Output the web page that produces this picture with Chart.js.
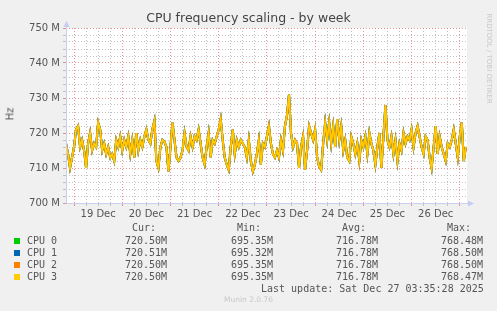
<!DOCTYPE html>
<html>
<head>
<meta charset="utf-8">
<script src="https://cdn.jsdelivr.net/npm/chart.js@4.4.1/dist/chart.umd.min.js"></script>
<style>
  body { margin: 0; background: #f0f0f0; width: 497px; height: 311px; overflow: hidden; position: relative; font-family: "DejaVu Sans", sans-serif; }
  #chart { position: absolute; left: 0; top: 0; }
  .t { position: absolute; white-space: pre; line-height: 1; }
  .mono { font-family: "DejaVu Sans Mono", monospace; font-size: 10px; color: #555; }
  .sw { position: absolute; width: 6px; height: 6px; }
</style>
</head>
<body>
<canvas id="chart" width="497" height="311"></canvas>

<div class="t" id="title" style="left:0;width:497px;text-align:center;top:12px;font-size:12.5px;color:#444;">CPU frequency scaling - by week</div>
<div class="t" style="left:4px;top:109px;font-size:10px;color:#555;transform:rotate(-90deg);transform-origin:center;">Hz</div>
<div class="t" style="left:440px;top:55px;width:97px;text-align:center;font-size:7px;color:#c8c8c8;transform:rotate(90deg);transform-origin:center;">RRDTOOL / TOBI OETIKER</div>
<div id="legend"></div>
<div class="t mono" style="left:261px;top:284px;">Last update: Sat Dec 27 03:35:28 2025</div>
<div class="t" style="left:0;width:497px;text-align:center;top:296px;font-size:7.5px;color:#c8c8c8;">Munin 2.0.76</div>

<script>
// CPU frequency in MHz, one sample per hour
const startHour = -4; // 18 Dec 20:00, relative to 19 Dec 00:00
const freqMHz = [
    717, 714, 710, 713, 716, 721, 722, 716, 718, 715,
    710, 717, 720, 715, 717, 716, 723, 721, 715, 717,
    714, 716, 713, 714, 712, 718, 716, 719, 715, 718,
    716, 719, 714, 718, 713, 720, 715, 718, 716, 719,
    721, 718, 717, 721, 723.5, 712, 710, 716, 718, 717.5,
    716, 709, 716, 723, 718, 713, 712, 713, 715, 720,
    716, 715, 719, 716, 719, 718, 721, 717, 713, 711,
    716, 720, 713, 718, 717, 719, 721, 724, 718, 713,
    711, 709.5, 716, 721, 714, 718, 716, 718, 717, 716,
    713, 718, 712, 709, 711, 714, 718, 711, 717, 716,
    719, 722, 717, 714, 713, 715, 713, 718, 715, 722,
    725, 731, 720, 716, 718, 717, 710, 716, 719, 709.5,
    715, 722, 720, 718, 721, 713, 710.5, 709.5, 717, 723,
    718, 723, 717, 722, 716, 724, 718, 722, 715, 718,
    713, 712, 719, 717, 714, 717, 712, 718, 716, 719,
    714, 720, 717, 715, 711, 716, 720, 710, 719, 728,
    718, 716, 719, 714, 718, 712, 717, 715, 720, 717,
    719, 718, 721, 716, 720, 722, 719, 716, 714, 719,
    718, 713, 710, 716, 722, 714, 719, 716, 714, 712,
    717, 716, 718, 721, 717, 713, 719, 723, 712, 716
];

// Legend table
const cpuNames = ["CPU 0", "CPU 1", "CPU 2", "CPU 3"];
const cpuColors = ["#00cc00", "#0066b3", "#ff8000", "#ffcc00"];
const curVals = ["720.50M", "720.51M", "720.50M", "720.50M"];
const minVals = ["695.35M", "695.32M", "695.35M", "695.35M"];
const avgVals = ["716.78M", "716.78M", "716.78M", "716.78M"];
const maxVals = ["768.48M", "768.50M", "768.50M", "768.47M"];

// Axis labels
const dayLabels = ["19 Dec", "20 Dec", "21 Dec", "22 Dec", "23 Dec", "24 Dec", "25 Dec", "26 Dec"];

const points = freqMHz.map((v, i) => ({ x: startHour + i, y: v }));

// build the legend rows
function buildLegend() {
    const el = document.getElementById("legend");
    let html = "";
    const heads = [["Cur:", 132], ["Min:", 237], ["Avg:", 342], ["Max:", 447]];
    heads.forEach(h => {
        html += `<div class="t mono" style="left:${h[1]}px;top:223px;">${h[0]}</div>`;
    });
    cpuNames.forEach((name, i) => {
        const y = 235.5 + i * 12;
        html += `<div class="sw" style="left:14px;top:${y + 2}px;background:${cpuColors[i]}"></div>`;
        html += `<div class="t mono" style="left:27px;top:${y}px;">${name}</div>`;
        const cols = [[curVals, 167], [minVals, 273], [avgVals, 378], [maxVals, 483]];
        cols.forEach(c => {
            html += `<div class="t mono" style="left:${c[1] - 42}px;width:42px;text-align:right;top:${y}px;">${c[0][i]}</div>`;
        });
    });
    el.innerHTML = html;
}
buildLegend();

const redGrid = "rgba(225, 120, 120, 0.8)";
const grayGrid = "rgba(180, 180, 180, 0.8)";
const axisColor = "#c9d0ee";

// white plot background, solid axis lines and arrows
const munin = {
    id: "munin",
    beforeDraw(chart) {
        const a = chart.chartArea, ctx = chart.ctx;
        ctx.save();
        ctx.fillStyle = "#ffffff";
        ctx.fillRect(a.left, a.top, a.right - a.left, a.bottom - a.top);
        ctx.restore();
    },
    afterDraw(chart) {
        const a = chart.chartArea, ctx = chart.ctx;
        ctx.save();
        ctx.strokeStyle = axisColor;
        ctx.lineWidth = 1;
        ctx.beginPath();
        ctx.moveTo(a.left + 0.5, a.top - 2);
        ctx.lineTo(a.left + 0.5, a.bottom + 0.5);
        ctx.lineTo(a.right + 2, a.bottom + 0.5);
        ctx.stroke();
        ctx.fillStyle = "#c4ccf2";
        ctx.beginPath();
        ctx.moveTo(a.left - 2.5, a.top - 1);
        ctx.lineTo(a.left + 3.5, a.top - 1);
        ctx.lineTo(a.left + 0.5, a.top - 7);
        ctx.closePath();
        ctx.fill();
        ctx.beginPath();
        ctx.moveTo(a.right + 1, a.bottom - 2.5);
        ctx.lineTo(a.right + 1, a.bottom + 3.5);
        ctx.lineTo(a.right + 7, a.bottom + 0.5);
        ctx.closePath();
        ctx.fill();
        ctx.restore();
    }
};

const datasets = cpuNames.map((name, i) => ({
    label: name,
    data: points,
    borderColor: cpuColors[i],
    borderWidth: i === 3 ? 1.6 : 2.1,
    pointRadius: 0,
    tension: 0,
    order: 4 - i
}));

new Chart(document.getElementById("chart"), {
    type: "line",
    data: { datasets: datasets },
    options: {
        responsive: false,
        animation: false,
        events: [],
        layout: { padding: { left: 0, top: 28, right: 30, bottom: 88 } },
        plugins: { legend: { display: false }, tooltip: { enabled: false } },
        scales: {
            x: {
                type: "linear",
                min: -4,
                max: 195.6,
                afterFit: s => { s.height = 20; },
                border: { display: false, dash: [1, 2] },
                grid: {
                    color: c => (c.tick.value % 24 === 0 ? redGrid : grayGrid),
                    tickLength: 3
                },
                ticks: {
                    stepSize: 6,
                    includeBounds: false,
                    autoSkip: false,
                    maxRotation: 0,
                    padding: 2,
                    color: "#555",
                    font: { family: "DejaVu Sans", size: 10 },
                    callback: v => (v % 24 === 12 ? dayLabels[(v - 12) / 24] || "" : "")
                }
            },
            y: {
                min: 700,
                max: 750,
                afterFit: s => { s.width = 66; },
                border: { display: false, dash: [1, 2] },
                grid: {
                    color: c => (c.tick.value % 10 === 0 ? redGrid : grayGrid),
                    tickLength: 3
                },
                ticks: {
                    stepSize: 2,
                    autoSkip: false,
                    padding: 3,
                    color: "#555",
                    font: { family: "DejaVu Sans", size: 10 },
                    callback: v => (v % 10 === 0 ? v + " M" : "")
                }
            }
        }
    },
    plugins: [munin]
});
</script>
</body>
</html>
